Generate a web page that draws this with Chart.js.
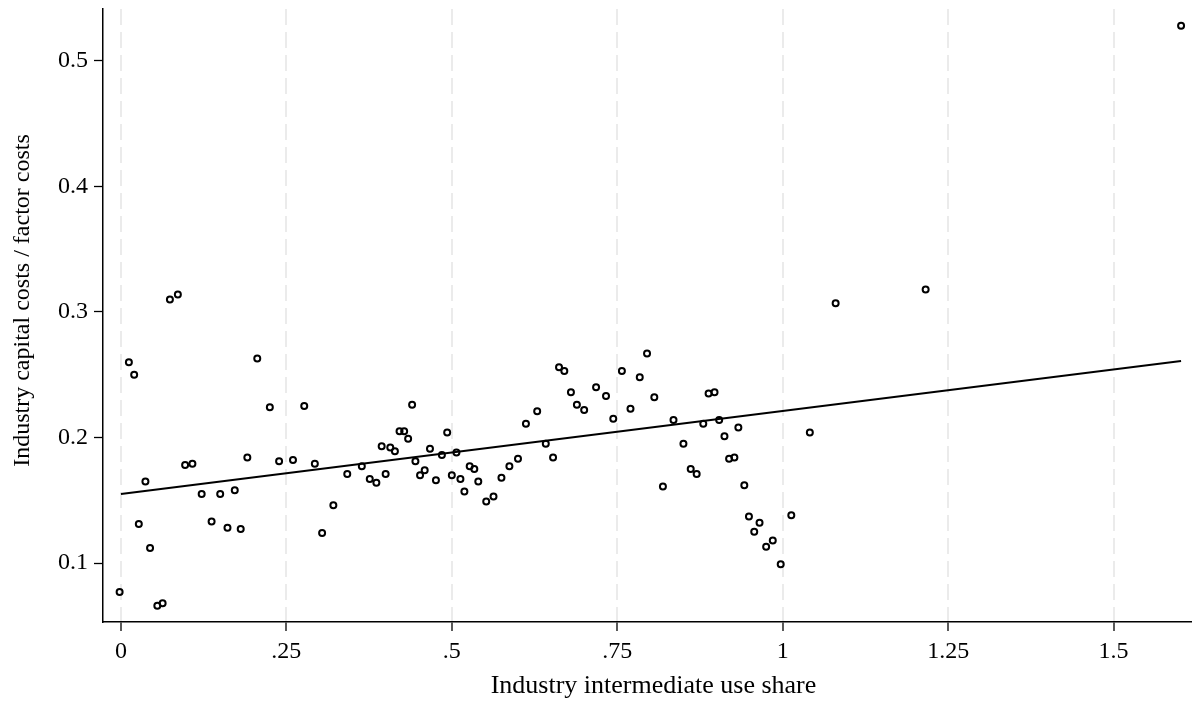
<!DOCTYPE html>
<html lang="en">
<head>
    <meta charset="UTF-8">
    <title>Intermediate use share vs capital costs</title>
    <script src="https://cdn.jsdelivr.net/npm/chart.js"></script>
    <style>
        body { margin: 0; background: #fff; }
        #wrap { width: 1197px; height: 702px; }
    </style>
</head>
<body>
    <div id="wrap">
        <canvas id="scatterChart" width="1197" height="702"></canvas>
    </div>

    <script>
        // industry values
        var useShare = [
            -0.002, 0.012, 0.020, 0.027, 0.037, 0.044, 0.055, 0.063, 0.074, 0.086,
            0.097, 0.108, 0.122, 0.137, 0.150, 0.161, 0.172, 0.181, 0.191, 0.206,
            0.225, 0.239, 0.260, 0.277, 0.293, 0.304, 0.321, 0.342, 0.364, 0.376,
            0.386, 0.394, 0.400, 0.407, 0.414, 0.421, 0.428, 0.434, 0.440, 0.445,
            0.452, 0.459, 0.467, 0.476, 0.485, 0.493, 0.500, 0.507, 0.513, 0.519,
            0.527, 0.534, 0.540, 0.552, 0.563, 0.575, 0.587, 0.600, 0.612, 0.629,
            0.642, 0.653, 0.662, 0.670, 0.680, 0.689, 0.700, 0.718, 0.733, 0.744,
            0.757, 0.770, 0.784, 0.795, 0.806, 0.819, 0.835, 0.850, 0.861, 0.870,
            0.880, 0.888, 0.897, 0.904, 0.912, 0.919, 0.927, 0.933, 0.942, 0.949,
            0.957, 0.965, 0.975, 0.985, 0.997, 1.013, 1.041, 1.080, 1.216, 1.602
        ];
        var capitalShare = [
            0.077, 0.260, 0.250, 0.131, 0.165, 0.112, 0.066, 0.068, 0.310, 0.314,
            0.178, 0.179, 0.155, 0.133, 0.155, 0.128, 0.158, 0.127, 0.184, 0.263,
            0.224, 0.181, 0.182, 0.225, 0.179, 0.124, 0.146, 0.171, 0.177, 0.167,
            0.164, 0.193, 0.171, 0.192, 0.189, 0.205, 0.205, 0.199, 0.226, 0.181,
            0.170, 0.174, 0.191, 0.166, 0.186, 0.204, 0.170, 0.188, 0.167, 0.157,
            0.177, 0.175, 0.165, 0.149, 0.153, 0.168, 0.177, 0.183, 0.211, 0.221,
            0.195, 0.184, 0.256, 0.253, 0.236, 0.226, 0.222, 0.240, 0.233, 0.215,
            0.253, 0.223, 0.248, 0.267, 0.232, 0.161, 0.214, 0.195, 0.175, 0.171,
            0.211, 0.235, 0.236, 0.214, 0.201, 0.183, 0.184, 0.208, 0.162, 0.137,
            0.125, 0.132, 0.113, 0.118, 0.099, 0.138, 0.204, 0.307, 0.318, 0.528
        ];

        // fitted line end points
        var fitX = [0, 1.602];
        var fitY = [0.155, 0.261];

        var xTickValues = [0, 0.25, 0.5, 0.75, 1, 1.25, 1.5];
        var xTickLabels = ['0', '.25', '.5', '.75', '1', '1.25', '1.5'];
        var yTickValues = [0.1, 0.2, 0.3, 0.4, 0.5];
        var yTickLabels = ['0.1', '0.2', '0.3', '0.4', '0.5'];

        var points = useShare.map(function (x, i) { return {x: x, y: capitalShare[i]}; });
        var fitLine = fitX.map(function (x, i) { return {x: x, y: fitY[i]}; });

        var serif = 'Liberation Serif';

        var config = {
            type: 'scatter',
            data: {
                datasets: [{
                    type: 'line',
                    data: fitLine,
                    borderColor: '#000',
                    borderWidth: 2,
                    pointRadius: 0,
                    fill: false
                }, {
                    data: points,
                    pointRadius: 3,
                    pointBorderWidth: 2,
                    pointBorderColor: '#000',
                    pointBackgroundColor: 'rgba(0,0,0,0)'
                }]
            },
            options: {
                responsive: false,
                animation: false,
                devicePixelRatio: 1,
                layout: { padding: { top: 9, right: 4, left: 0, bottom: 0 } },
                plugins: {
                    legend: { display: false },
                    tooltip: { enabled: false }
                },
                scales: {
                    x: {
                        type: 'linear',
                        min: -0.0271,
                        max: 1.617,
                        afterBuildTicks: function (scale) {
                            scale.ticks = xTickValues.map(function (v) { return {value: v}; });
                        },
                        afterFit: function (scale) {
                            scale.height = 80;
                            scale.paddingLeft = 0;
                            scale.paddingRight = 0;
                        },
                        ticks: {
                            autoSkip: false,
                            maxRotation: 0,
                            padding: 6,
                            color: '#000',
                            font: { family: serif, size: 24 },
                            callback: function (value) {
                                return xTickLabels[xTickValues.indexOf(value)];
                            }
                        },
                        grid: {
                            color: '#ebebeb',
                            lineWidth: 2,
                            tickColor: '#000',
                            tickWidth: 1.3,
                            tickLength: 9
                        },
                        border: { color: '#000', width: 1.5, dash: [16, 7] },
                        title: {
                            display: true,
                            text: '\u2002Industry intermediate use share',
                            color: '#000',
                            font: { family: serif, size: 26 },
                            padding: { top: 0, bottom: 0 }
                        }
                    },
                    y: {
                        type: 'linear',
                        min: 0.053,
                        max: 0.5414,
                        afterBuildTicks: function (scale) {
                            scale.ticks = yTickValues.map(function (v) { return {value: v}; });
                        },
                        afterFit: function (scale) {
                            scale.width = 103;
                            scale.paddingTop = 0;
                            scale.paddingBottom = 0;
                        },
                        ticks: {
                            autoSkip: false,
                            padding: 6,
                            color: '#000',
                            font: { family: serif, size: 24 },
                            callback: function (value) {
                                return yTickLabels[yTickValues.indexOf(value)];
                            }
                        },
                        grid: {
                            drawOnChartArea: false,
                            tickColor: '#000',
                            tickWidth: 1.3,
                            tickLength: 9
                        },
                        border: { color: '#000', width: 1.5 },
                        title: {
                            display: true,
                            text: '\u2003 Industry capital costs / factor costs',
                            color: '#000',
                            font: { family: serif, size: 24 },
                            padding: { top: 8, bottom: 0 }
                        }
                    }
                }
            }
        };

        var ctx = document.getElementById('scatterChart').getContext('2d');
        var myChart = new Chart(ctx, config);
    </script>
</body>
</html>
